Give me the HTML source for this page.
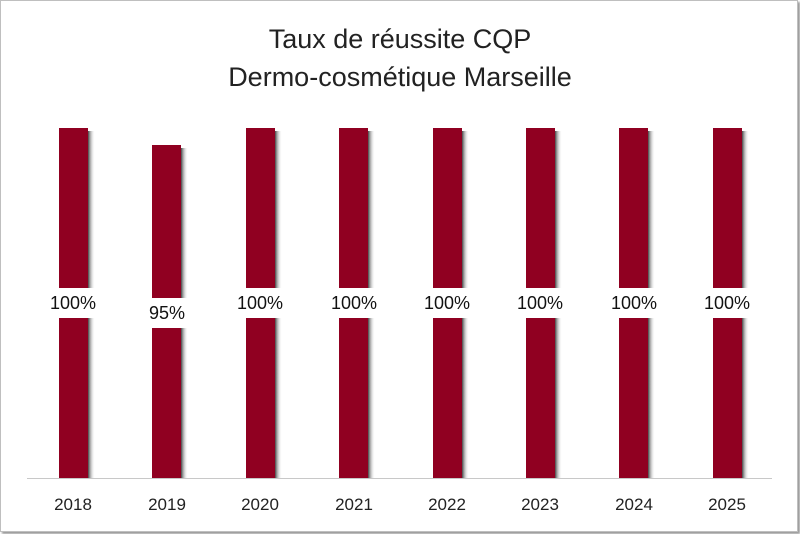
<!DOCTYPE html>
<html><head><style>
body{margin:0;background:#fff;}
.c{position:relative;width:800px;height:534px;overflow:hidden;font-family:"Liberation Sans",Carlito,sans-serif;}
.frame{position:absolute;left:0;top:0;width:796px;height:530px;border:1px solid #bfbfbf;box-shadow:2px 2px 2px #999;}
.t{position:absolute;left:0;width:800px;text-align:center;font-size:27px;color:#222;}
.l{position:absolute;width:60px;background:#fff;text-align:center;font-size:18px;color:#111;height:30px;line-height:30px;}
.y{position:absolute;top:495px;width:60px;text-align:center;font-size:17px;color:#222;}
.ax{position:absolute;left:27px;top:478px;width:745px;height:1px;background:#c8c8c8;}
</style></head><body><div class="c">
<div class="frame"></div>
<div class="t" style="top:24px">Taux de réussite CQP</div>
<div class="t" style="top:62px">Dermo-cosmétique Marseille</div>
<div class="ax"></div>
<svg width="800" height="534" style="position:absolute;left:0;top:0">
<defs><linearGradient id="s" x1="0" x2="1"><stop offset="0" stop-color="#444"/><stop offset="1" stop-color="#fff" stop-opacity="0"/></linearGradient></defs>
<g fill="url(#s)">
<rect x="88" y="131" width="7" height="347"/><rect x="181" y="148" width="7" height="330"/>
<rect x="275" y="131" width="7" height="347"/><rect x="368" y="131" width="7" height="347"/>
<rect x="462" y="131" width="7" height="347"/><rect x="555" y="131" width="7" height="347"/>
<rect x="648" y="131" width="7" height="347"/><rect x="742" y="131" width="7" height="347"/>
</g>
<g fill="#900021">
<rect x="59" y="128" width="29" height="350"/><rect x="152" y="145" width="29" height="333"/>
<rect x="246" y="128" width="29" height="350"/><rect x="339" y="128" width="29" height="350"/>
<rect x="433" y="128" width="29" height="350"/><rect x="526" y="128" width="29" height="350"/>
<rect x="619" y="128" width="29" height="350"/><rect x="713" y="128" width="29" height="350"/>
</g>
</svg>
<div class="l" style="left:43px;top:288px">100%</div>
<div class="l" style="left:137px;top:298px">95%</div>
<div class="l" style="left:230px;top:288px">100%</div>
<div class="l" style="left:324px;top:288px">100%</div>
<div class="l" style="left:417px;top:288px">100%</div>
<div class="l" style="left:510px;top:288px">100%</div>
<div class="l" style="left:604px;top:288px">100%</div>
<div class="l" style="left:697px;top:288px">100%</div>
<div class="y" style="left:43px">2018</div>
<div class="y" style="left:137px">2019</div>
<div class="y" style="left:230px">2020</div>
<div class="y" style="left:324px">2021</div>
<div class="y" style="left:417px">2022</div>
<div class="y" style="left:510px">2023</div>
<div class="y" style="left:604px">2024</div>
<div class="y" style="left:697px">2025</div>
</div></body></html>
